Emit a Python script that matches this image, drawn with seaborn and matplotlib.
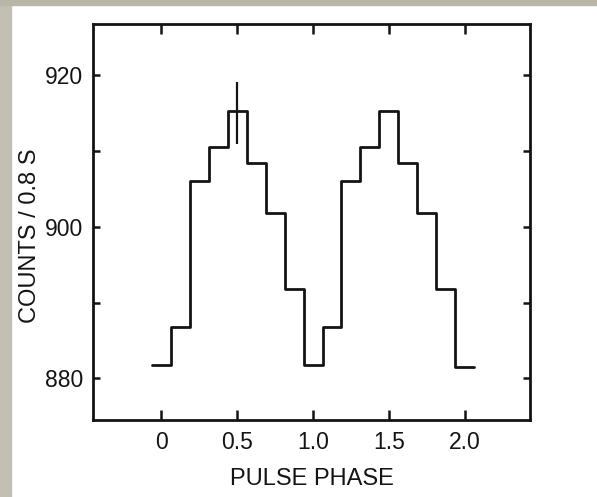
import numpy as np
import pandas as pd
import matplotlib
matplotlib.use("Agg")
import matplotlib.pyplot as plt
from matplotlib.patches import Rectangle
import seaborn as sns

# ---- data ----
phase = [0.0, 0.125, 0.25, 0.375, 0.5, 0.625, 0.75, 0.875,
         1.0, 1.125, 1.25, 1.375, 1.5, 1.625, 1.75, 1.875, 2.0]
counts = [881.7, 886.8, 906.1, 910.6, 915.35, 908.5, 901.8, 891.8,
          881.7, 886.8, 906.0, 910.6, 915.3, 908.4, 901.8, 891.8, 881.5]
bin_width = 0.125
err_phase = [0.5]
err_low = [911.0]
err_high = [919.2]
xtick_vals = [0, 0.5, 1.0, 1.5, 2.0]
xtick_labels = ["0", "0.5", "1.0", "1.5", "2.0"]
ytick_vals = [880, 890, 900, 910, 920]
ytick_labels = ["880", "", "900", "", "920"]

sns.set_style("ticks")
plt.rcParams["font.family"] = ["Liberation Sans", "DejaVu Sans"]

ink = "#141414"
fig = plt.figure(figsize=(5.97, 4.97), dpi=100)
fig.patch.set_facecolor("white")
# scanned page border strips
fig.patches.append(Rectangle((0, 0), 11 / 597, 1, transform=fig.transFigure,
                             color="#c2c0b2", zorder=-10))
fig.patches.append(Rectangle((0, 1 - 5 / 497), 1, 5 / 497, transform=fig.transFigure,
                             color="#b9b6a8", zorder=-10))

ax = fig.add_axes([93 / 597, 1 - 420 / 497, (530 - 93) / 597, (420 - 24) / 497])

# build step outline from the bin centres
edges = [p - bin_width / 2 for p in phase] + [phase[-1] + bin_width / 2]
vals = counts + [counts[-1]]
df = pd.DataFrame({"edge": edges, "count": vals})
sns.lineplot(data=df, x="edge", y="count", ax=ax, drawstyle="steps-post",
             color=ink, lw=2.0, estimator=None, sort=False)
ax.vlines(err_phase, err_low, err_high, color=ink, lw=1.6)

ax.set_xlim(-0.45, 2.43)
ax.set_ylim(874.5, 926.8)
ax.set_xticks(xtick_vals)
ax.set_xticklabels(xtick_labels)
ax.set_yticks(ytick_vals)
ax.set_yticklabels(ytick_labels)
ax.tick_params(axis="x", direction="in", length=7, width=1.8, top=True,
               labelsize=16.5, pad=8, color=ink, labelcolor=ink)
ax.tick_params(axis="y", direction="in", length=5, width=1.8, right=True,
               labelsize=16.5, pad=7, color=ink, labelcolor=ink)
for s in ax.spines.values():
    s.set_visible(True)
    s.set_linewidth(2.0)
    s.set_color(ink)

ax.set_xlabel("PULSE PHASE", fontsize=17, color=ink)
ax.set_ylabel("COUNTS / 0.8 S", fontsize=17, color=ink)
ax.yaxis.set_label_coords(-0.118, 0.465)
ax.xaxis.set_label_coords(0.5, -0.122)
ax.xaxis.label.set_va("top")

fig.savefig("out.png", dpi=100, facecolor=fig.get_facecolor())
